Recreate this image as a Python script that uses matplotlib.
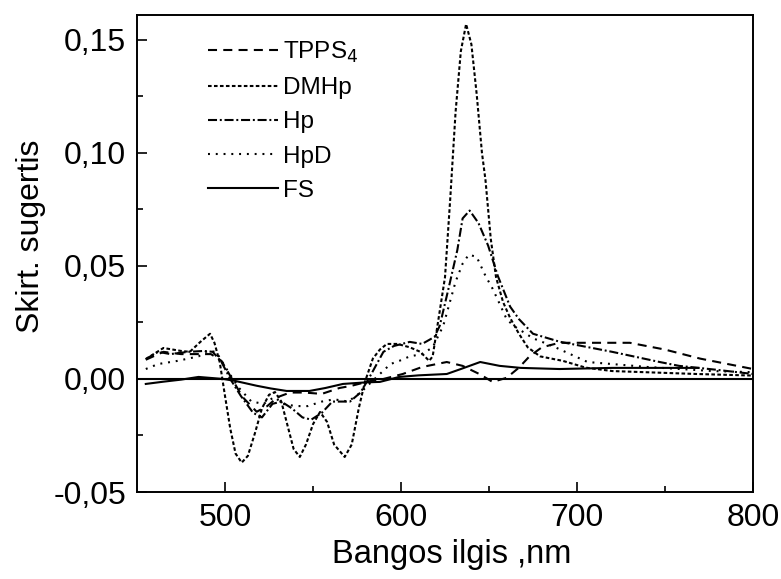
import matplotlib
matplotlib.use("Agg")
import matplotlib.pyplot as plt

plt.rcParams['font.family'] = ['Liberation Sans', 'DejaVu Sans']
plt.rcParams['lines.scale_dashes'] = False

# ---- data ----
tpps_x = [455, 465, 475, 485, 492, 498, 504, 510, 518, 524, 530, 537, 545, 555, 565, 572, 582,
          590, 601, 612, 626, 635, 645, 652, 660, 667, 673, 680, 690, 702, 730, 750, 770, 800]
tpps_y = [0.0085, 0.012, 0.011, 0.011, 0.011, 0.008, 0.0, -0.008, -0.0145, -0.012, -0.008, -0.006,
          -0.006, -0.0066, -0.004, -0.003, -0.001, 0.0, 0.0022, 0.0053, 0.0075, 0.0058, 0.002,
          -0.0013, 0.0005, 0.005, 0.010, 0.014, 0.016, 0.016, 0.016, 0.013, 0.009, 0.0044]

dmhp_x = [455, 465, 475, 480, 486, 491.5, 494, 497, 500, 503, 506, 509.5, 513, 517, 521, 525,
          528.4, 532, 536, 539, 542.5, 546, 550, 554, 558, 562, 568, 572, 576, 579.5, 584, 588,
          592, 598, 605, 611, 616, 618, 621, 625, 628, 631, 634, 637, 640, 643, 646, 648, 651,
          654, 658, 662, 667, 672, 679, 692, 705, 720, 768, 800]
dmhp_y = [0.0088, 0.0137, 0.0124, 0.012, 0.0164, 0.020, 0.016, 0.0075, -0.0075, -0.022, -0.033,
          -0.037, -0.034, -0.024, -0.013, -0.007, -0.0058, -0.010, -0.022, -0.031, -0.0345, -0.029,
          -0.020, -0.0146, -0.019, -0.029, -0.0345, -0.029, -0.013, -0.0013, 0.009, 0.013, 0.0155,
          0.0155, 0.014, 0.012, 0.008, 0.010, 0.025, 0.045, 0.080, 0.118, 0.145, 0.157, 0.148,
          0.126, 0.100, 0.088, 0.062, 0.045, 0.034, 0.027, 0.020, 0.014, 0.010, 0.008, 0.005,
          0.0035, 0.0022, 0.0015]

hp_x = [455, 462, 469, 479, 488, 493, 498, 503, 509, 516, 521, 527, 532, 538, 544, 549, 555,
        561, 571, 577, 583, 590, 596, 605, 612, 619, 622, 627, 632, 635, 639, 644, 649.5, 655,
        662, 667, 675, 690, 720, 747, 758, 780, 800]
hp_y = [0.0088, 0.012, 0.011, 0.012, 0.0124, 0.012, 0.0075, 0.0, -0.0075, -0.015, -0.017, -0.011,
        -0.010, -0.013, -0.017, -0.018, -0.015, -0.010, -0.010, -0.006, 0.002, 0.012, 0.0146,
        0.0164, 0.0155, 0.0186, 0.0235, 0.040, 0.057, 0.071, 0.0745, 0.069, 0.059, 0.0456,
        0.032, 0.0265, 0.020, 0.0165, 0.012, 0.0075, 0.0058, 0.004, 0.0022]

hpd_x = [455, 462, 473, 485, 490, 495, 502, 508, 515, 522, 528, 533, 540, 547, 555, 562, 570,
         577, 585, 594, 599, 605, 612, 618, 624, 631, 635, 638.5, 643, 648, 652, 655, 660, 664,
         675, 686, 706, 740, 777, 800]
hpd_y = [0.0044, 0.0066, 0.008, 0.010, 0.0124, 0.012, 0.003, -0.004, -0.010, -0.011, -0.008,
         -0.011, -0.012, -0.012, -0.010, -0.009, -0.010, -0.006, 0.0, 0.0066, 0.008, 0.010, 0.011,
         0.014, 0.0235, 0.043, 0.051, 0.055, 0.054, 0.0456, 0.040, 0.035, 0.0265, 0.0235, 0.018,
         0.0146, 0.0075, 0.0053, 0.0035, 0.003]

fs_x = [455, 465, 475, 485, 499, 506, 518, 526, 535, 548, 557, 567, 580, 588, 599, 610, 626,
        634, 645, 656, 668, 690, 720, 769]
fs_y = [-0.0022, -0.0012, -0.0003, 0.0009, 0.0, -0.0009, -0.003, -0.0042, -0.0053, -0.0053,
        -0.004, -0.0022, -0.0015, -0.0013, 0.0009, 0.0016, 0.0022, 0.0044, 0.0075, 0.0058,
        0.0049, 0.0044, 0.0049, 0.0049]

labels = ['TPPS$_4$', 'DMHp', 'Hp', 'HpD', 'FS']
x_ticks = [500, 600, 700, 800]
y_ticks = [-0.05, 0.0, 0.05, 0.10, 0.15]
y_tick_labels = ['-0,05', '0,00', '0,05', '0,10', '0,15']

# ---- figure ----
fig = plt.figure(figsize=(7.81, 5.79), dpi=100)
ax = fig.add_axes([137 / 781, 1 - 492 / 579, 616 / 781, 477 / 579])

lw = 1.5
ax.plot(tpps_x, tpps_y, color='black', lw=lw, dashes=(6.5, 4.5), label=labels[0])
ax.plot(dmhp_x, dmhp_y, color='black', lw=lw, dashes=(2.6, 1.7), label=labels[1])
ax.plot(hp_x, hp_y, color='black', lw=lw, dashes=(6.5, 2.0, 1.4, 2.0), label=labels[2])
ax.plot(hpd_x, hpd_y, color='black', lw=lw, dashes=(1.4, 4.2), label=labels[3])
ax.plot(fs_x, fs_y, color='black', lw=lw, label=labels[4])
ax.axhline(0.0, color='black', lw=1.5)

ax.set_xlim(450, 800)
ax.set_ylim(-0.05, 0.161)
ax.set_xticks(x_ticks)
ax.set_xticks([550, 650, 750], minor=True)
ax.set_yticks(y_ticks)
ax.set_yticklabels(y_tick_labels)
ax.set_yticks([-0.025, 0.025, 0.075, 0.125], minor=True)

ax.tick_params(axis='both', which='major', direction='in', length=7, width=1.2,
               labelsize=23, pad=8, top=False, right=False)
ax.tick_params(axis='both', which='minor', direction='in', length=4.5, width=1.2,
               top=False, right=False)
for s in ax.spines.values():
    s.set_linewidth(1.4)

ax.set_xlabel('Bangos ilgis ,nm', fontsize=23.5)
ax.set_ylabel('Skirt. sugertis', fontsize=23)
ax.xaxis.set_label_coords(0.511, -0.132)
ax.yaxis.set_label_coords(-0.172, 0.537)
ax.xaxis.label.set_va('center')
ax.yaxis.label.set_va('center')

leg = ax.legend(loc='upper left', bbox_to_anchor=(0.115, 0.948), frameon=False,
                fontsize=17.5, handlelength=2.9, handletextpad=0.2, labelspacing=0.5,
                borderpad=0, borderaxespad=0)

fig.savefig('out.png', dpi=100)
